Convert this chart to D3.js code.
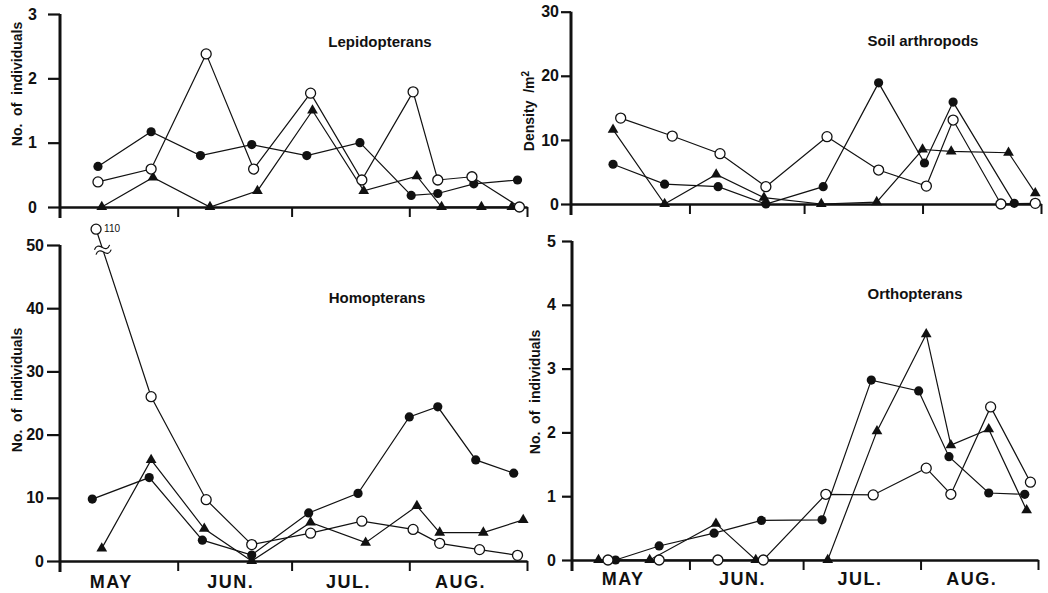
<!DOCTYPE html>
<html>
<head>
<meta charset="utf-8">
<script src="https://cdn.jsdelivr.net/npm/d3@7"></script>
<style>
  body { margin: 0; background: #fff; }
  svg { display: block; font-family: "Liberation Sans", Arial, sans-serif; font-weight: bold; }
</style>
</head>
<body>
<div id="chart"></div>
<script>
// x values are days counted from 1 May, y values as read off the figure
// filled circles / open circles / triangles
const lepiSolid = [[10,0.63],[24,1.17],[37,0.8],[50.5,0.97],[65,0.8],[79,1.0],[92.5,0.18],[99.5,0.21],[109,0.36],[120.5,0.42]];
const lepiOpen  = [[10,0.39],[24,0.59],[38.5,2.38],[51,0.59],[66,1.77],[79.5,0.42],[93,1.79],[99.5,0.42],[108.5,0.47],[121,0]];
const lepiTri   = [[11,0],[24.5,0.46],[39.5,0],[52,0.25],[66.5,1.5],[80,0.25],[94,0.48],[100.5,0],[111,0],[119,0]];

const soilSolid = [[11,6.2],[24.5,3.1],[38.5,2.7],[51,0],[66,2.7],[80.5,18.9],[92.5,6.4],[100,15.9],[116,0.1]];
const soilOpen  = [[13,13.4],[26.5,10.6],[39,7.85],[51,2.7],[67,10.5],[80.5,5.3],[93,2.8],[100,13.1],[112.5,0],[121.5,0.1]];
const soilTri   = [[11,11.6],[24.5,0],[38,4.6],[50.5,1.0],[65.5,0],[80,0.3],[92,8.5],[99.5,8.2],[114.5,8.0],[121.5,1.7]];

const homoSolid = [[8.5,9.8],[23.5,13.2],[37.5,3.3],[50.5,0.95],[65.5,7.6],[78.5,10.7],[92,22.8],[99.5,24.4],[109.5,16],[119.5,13.9]];
const homoOpen  = [[9.5,110],[24,26],[38.5,9.7],[50.5,2.6],[66,4.4],[79.5,6.3],[93,5.0],[100,2.8],[110.5,1.8],[120.5,0.9]];
const homoTri   = [[11,2.0],[24,16],[38,5.1],[50.5,0],[66,6.1],[80.5,2.9],[94,8.7],[100,4.5],[111.5,4.5],[122,6.5]];

const orthoSolid = [[11.5,0],[23,0.22],[37.5,0.42],[50,0.62],[66,0.63],[79,2.82],[91.5,2.65],[99.5,1.62],[110,1.05],[119.5,1.03]];
const orthoOpen  = [[9.5,0],[23,0],[38.5,0],[50.5,0],[67,1.03],[79.5,1.02],[93.5,1.44],[100,1.03],[110.5,2.4],[121,1.22]];
const orthoTri   = [[7,0],[20.5,0],[38,0.57],[48.5,0],[67.5,0],[80.5,2.02],[93.5,3.54],[100,1.8],[110,2.05],[120,0.78]];

const monthEdges = [31, 61, 92, 123];
const monthNames = ["MAY", "JUN.", "JUL.", "AUG."];
const monthLabelDays = [13.5, 45, 76, 105.5];

const W = 1048, H = 593;
const svg = d3.select("#chart").append("svg").attr("width", W).attr("height", H);

const panels = [
  { title: "Lepidopterans", ylabel: "No.  of  individuals", yMax: 3, ticks: [0,1,2,3],
    series: [lepiSolid, lepiOpen, lepiTri], xr: [60, 527], yr: [207, 14],
    tickSize: 12, pad: 11, titlePos: [380, 47], ylPos: [17, 84], months: null },
  { title: "Soil  arthropods", ylabel: "Density  /m", sup: "2", yMax: 30, ticks: [0,10,20,30],
    series: [soilSolid, soilOpen, soilTri], xr: [571, 1041], yr: [204, 11.7],
    tickSize: 10, pad: 2, titlePos: [923, 46], ylPos: [529, 111], months: null, narrow: true },
  { title: "Homopterans", ylabel: "No.  of  individuals", yMax: 50, ticks: [0,10,20,30,40,50],
    series: [homoSolid, homoOpen, homoTri], xr: [60, 527], yr: [561, 245],
    tickSize: 13, pad: 3, titlePos: [377, 303], ylPos: [17, 390], months: 588, brk: true },
  { title: "Orthopterans", ylabel: "No.  of  individuals", yMax: 5, ticks: [0,1,2,3,4,5],
    series: [orthoSolid, orthoOpen, orthoTri], xr: [572, 1038], yr: [560, 241],
    tickSize: 10, pad: 6, titlePos: [915, 299], ylPos: [535, 392], months: 585 }
];

panels.forEach(p => {
  const x = d3.scaleLinear().domain([0, 123]).range(p.xr);
  const y = d3.scaleLinear().domain([0, p.yMax]).range(p.yr);
  // values above the axis top are drawn just past it, with a break mark
  const disp = v => v > p.yMax ? p.yMax * 1.05 : v;
  const g = svg.append("g");

  // x axis with month boundary ticks
  const xa = g.append("g")
      .attr("transform", `translate(0,${y(0)})`)
      .call(d3.axisBottom(x).tickValues(monthEdges).tickSize(10).tickSizeOuter(0).tickFormat(""));
  xa.select(".domain").attr("stroke", "#111").attr("stroke-width", 2.5);
  xa.selectAll(".tick line").attr("stroke", "#111").attr("stroke-width", 2);

  // y axis
  const ya = g.append("g")
      .attr("transform", `translate(${x(0)},0)`)
      .call(d3.axisLeft(y).tickValues(p.ticks).tickFormat(d3.format("d")).tickSize(p.tickSize).tickPadding(p.pad));
  ya.select(".domain").remove();
  ya.selectAll(".tick line").attr("stroke", "#111").attr("stroke-width", 2.2);
  ya.selectAll(".tick text")
      .attr("fill", "#111")
      .style("font-size", "16px")
      .style("font-weight", "bold")
      .style("font-family", p.narrow ? '"Liberation Sans Narrow", "Liberation Sans", Arial, sans-serif' : null);
  g.append("line")
      .attr("x1", x(0)).attr("x2", x(0))
      .attr("y1", y(p.yMax)).attr("y2", y(0) + 11)
      .attr("stroke", "#111").attr("stroke-width", 3);

  // titles
  g.append("text")
      .attr("x", p.titlePos[0]).attr("y", p.titlePos[1])
      .attr("text-anchor", "middle")
      .style("font-size", "15px")
      .attr("fill", "#111")
      .text(p.title);

  const yl = g.append("text")
      .attr("transform", `translate(${p.ylPos[0]},${p.ylPos[1]}) rotate(-90)`)
      .attr("text-anchor", "middle")
      .attr("dy", "0.35em")
      .style("font-size", "14px")
      .style("white-space", "pre")
      .attr("fill", "#111")
      .text(p.ylabel);
  if (p.sup) {
    yl.append("tspan").attr("baseline-shift", "super").style("font-size", "10px").text(p.sup);
  }

  if (p.months) {
    g.append("g").selectAll("text")
      .data(monthNames)
      .join("text")
        .attr("x", (d, i) => x(monthLabelDays[i]))
        .attr("y", p.months)
        .attr("text-anchor", "middle")
        .style("font-size", "18px")
        .style("letter-spacing", "1.5px")
        .attr("fill", "#111")
        .text(d => d);
  }

  const line = d3.line().x(d => x(d[0])).y(d => y(disp(d[1])));
  g.append("g").selectAll("path")
    .data(p.series)
    .join("path")
      .attr("d", line)
      .attr("fill", "none")
      .attr("stroke", "#111")
      .attr("stroke-width", 1.2);

  const [solid, open, tri] = p.series;

  g.append("g").selectAll("path")
    .data(tri)
    .join("path")
      .attr("transform", d => `translate(${x(d[0])},${y(disp(d[1]))})`)
      .attr("d", d3.symbol(d3.symbolTriangle, 50))
      .attr("fill", "#111");

  g.append("g").selectAll("circle")
    .data(solid)
    .join("circle")
      .attr("cx", d => x(d[0]))
      .attr("cy", d => y(disp(d[1])))
      .attr("r", 4.6)
      .attr("fill", "#111");

  g.append("g").selectAll("circle")
    .data(open)
    .join("circle")
      .attr("cx", d => x(d[0]))
      .attr("cy", d => y(disp(d[1])))
      .attr("r", 5)
      .attr("fill", "#fff")
      .attr("stroke", "#111")
      .attr("stroke-width", 1.3);

  if (p.brk) {
    // axis break on the open-circle line, with the true value written beside the point
    const big = open.filter(d => d[1] > p.yMax);
    big.forEach(d => {
      const i = open.indexOf(d);
      const nx = open[i + 1];
      const x0 = x(d[0]), y0 = y(disp(d[1]));
      const x1 = x(nx[0]), y1 = y(disp(nx[1]));
      const yb = y(p.yMax * 0.985);
      const t = (yb - y0) / (y1 - y0);
      const bx = x0 + t * (x1 - x0);
      const bg = g.append("g").attr("transform", `translate(${bx},${yb}) rotate(-18)`);
      bg.append("rect").attr("x", -3).attr("y", -2.5).attr("width", 6).attr("height", 5).attr("fill", "#fff");
      [-2.5, 2.5].forEach(o => {
        bg.append("path")
          .attr("d", `M-8,${o} Q-4,${o - 5} 0,${o} T8,${o}`)
          .attr("fill", "none")
          .attr("stroke", "#111")
          .attr("stroke-width", 1.2);
      });
      g.append("text")
          .attr("x", x0 + 8).attr("y", y0 + 3)
          .style("font-size", "10px")
          .style("font-weight", "normal")
          .attr("fill", "#111")
          .text(d[1]);
    });
  }
});
</script>
</body>
</html>
